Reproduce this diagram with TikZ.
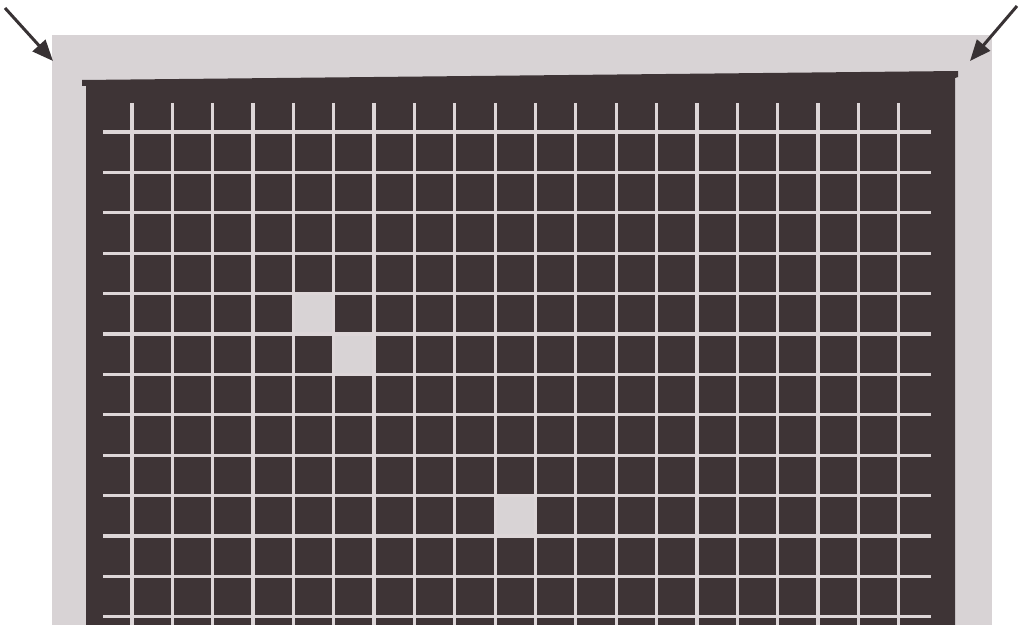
\documentclass[tikz,border=0pt]{standalone}
\usepackage{xcolor}
\usetikzlibrary{arrows.meta}
\definecolor{PlGray}{HTML}{D8D3D5}
\definecolor{PlDark}{HTML}{3E3436}
\definecolor{PlGrid}{HTML}{DDD6D8}
\definecolor{PlArrow}{HTML}{383234}

\begin{document}
\begin{tikzpicture}[x=0.02cm,y=-0.02cm,
  gridline/.style={PlGrid,line width=0.065cm},
  pointer/.style={PlArrow,line width=0.06cm,-{Triangle[length=0.42cm,width=0.34cm]}}]
\path[use as bounding box] (0,0) rectangle (1019,625);
% plate and dark field
\fill[PlGray] (52,35) rectangle (992,625);
\fill[PlDark] (82,86) -- (82,80) -- (958,71) -- (958,77) -- (955,78) -- (955,625) -- (86,625) -- (86,86) -- cycle;
% light cells
\foreach \c/\r in {4/4,5/5,9/9}
  \fill[PlGray] (132+\c*40.35,132+\r*40.4) rectangle ++(40.35,40.4);
% grid
\foreach \i in {0,...,19}
  \draw[gridline] (132+\i*40.35,103) -- (132+\i*40.35,625);
\foreach \j in {0,...,12}
  \draw[gridline] (103,132+\j*40.4) -- (931,132+\j*40.4);
% corner pointers
\coordinate (tlTail) at (5,8);
\coordinate (tlCorner) at (53,61);
\coordinate (trTail) at (1017,6);
\coordinate (trCorner) at (970,61);
\draw[pointer] (tlTail) -- (tlCorner);
\draw[pointer] (trTail) -- (trCorner);
\end{tikzpicture}
\end{document}
